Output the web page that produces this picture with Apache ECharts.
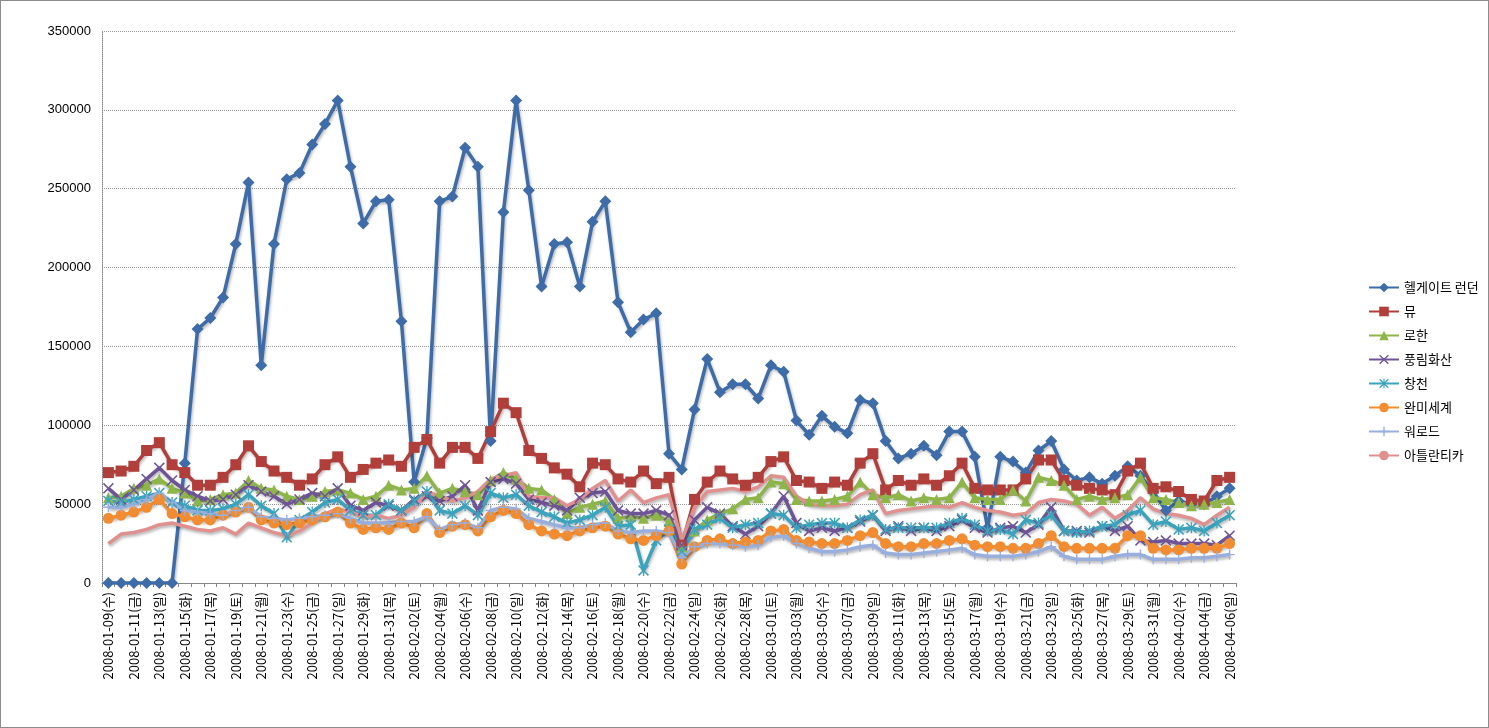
<!DOCTYPE html>
<html>
<head>
<meta charset="utf-8">
<script src="https://cdn.jsdelivr.net/npm/echarts@6/dist/echarts.min.js"></script>
<style>
    *{margin:0;padding:0;}
    body{background:#fff;}
    #main{width:1489px;height:728px;box-sizing:border-box;border:1px solid #8c8c8c;}
</style>
</head>
<body>
<div id="main"></div>
<script type="text/javascript">
// 날짜 (x축)
var dates = [
    '2008-01-09(수)','2008-01-10(목)','2008-01-11(금)','2008-01-12(토)','2008-01-13(일)','2008-01-14(월)','2008-01-15(화)',
    '2008-01-16(수)','2008-01-17(목)','2008-01-18(금)','2008-01-19(토)','2008-01-20(일)','2008-01-21(월)','2008-01-22(화)',
    '2008-01-23(수)','2008-01-24(목)','2008-01-25(금)','2008-01-26(토)','2008-01-27(일)','2008-01-28(월)','2008-01-29(화)',
    '2008-01-30(수)','2008-01-31(목)','2008-02-01(금)','2008-02-02(토)','2008-02-03(일)','2008-02-04(월)','2008-02-05(화)',
    '2008-02-06(수)','2008-02-07(목)','2008-02-08(금)','2008-02-09(토)','2008-02-10(일)','2008-02-11(월)','2008-02-12(화)',
    '2008-02-13(수)','2008-02-14(목)','2008-02-15(금)','2008-02-16(토)','2008-02-17(일)','2008-02-18(월)','2008-02-19(화)',
    '2008-02-20(수)','2008-02-21(목)','2008-02-22(금)','2008-02-23(토)','2008-02-24(일)','2008-02-25(월)','2008-02-26(화)',
    '2008-02-27(수)','2008-02-28(목)','2008-02-29(금)','2008-03-01(토)','2008-03-02(일)','2008-03-03(월)','2008-03-04(화)',
    '2008-03-05(수)','2008-03-06(목)','2008-03-07(금)','2008-03-08(토)','2008-03-09(일)','2008-03-10(월)','2008-03-11(화)',
    '2008-03-12(수)','2008-03-13(목)','2008-03-14(금)','2008-03-15(토)','2008-03-16(일)','2008-03-17(월)','2008-03-18(화)',
    '2008-03-19(수)','2008-03-20(목)','2008-03-21(금)','2008-03-22(토)','2008-03-23(일)','2008-03-24(월)','2008-03-25(화)',
    '2008-03-26(수)','2008-03-27(목)','2008-03-28(금)','2008-03-29(토)','2008-03-30(일)','2008-03-31(월)','2008-04-01(화)',
    '2008-04-02(수)','2008-04-03(목)','2008-04-04(금)','2008-04-05(토)','2008-04-06(일)'
];

var yTicks = [0, 50000, 100000, 150000, 200000, 250000, 300000, 350000];

var hellgate = [0,0,0,0,0,0,76000,161000,168000,181000,215000,254000,138000,215000,256000,260000,278000,291000,306000,264000,
    228000,242000,243000,166000,64000,92000,242000,245000,276000,264000,90000,235000,306000,249000,188000,215000,216000,188000,
    229000,242000,178000,159000,167000,171000,82000,72000,110000,142000,121000,126000,126000,117000,138000,134000,103000,94000,
    106000,99000,95000,116000,114000,90000,79000,82000,87000,81000,96000,96000,80000,35000,80000,77000,70000,84000,90000,72000,
    65000,67000,63000,68000,74000,68000,58000,46000,52000,50000,50000,55000,60000];

var you = [70000,71000,74000,84000,89000,75000,70000,62000,62000,67000,75000,87000,77000,71000,67000,62000,66000,75000,80000,67000,
    72000,76000,78000,74000,86000,91000,76000,86000,86000,79000,96000,114000,108000,84000,79000,73000,69000,61000,76000,75000,
    66000,64000,71000,63000,67000,24000,53000,64000,71000,66000,62000,67000,77000,80000,65000,64000,60000,64000,62000,76000,
    82000,59000,65000,62000,66000,62000,68000,76000,60000,59000,59000,59000,66000,78000,78000,65000,62000,60000,59000,56000,
    71000,76000,60000,61000,58000,53000,52000,65000,67000];

var rohan = [54000,55000,60000,62000,66000,60000,57000,52000,53000,56000,57000,65000,60000,59000,55000,53000,55000,58000,59000,57000,
    53000,55000,62000,59000,60000,68000,57000,60000,58000,56000,65000,70000,66000,60000,59000,53000,44000,48000,50000,52000,
    41000,42000,41000,43000,39000,23000,33000,40000,44000,47000,53000,54000,64000,63000,53000,52000,52000,53000,55000,64000,
    56000,54000,56000,52000,54000,53000,54000,64000,54000,53000,53000,59000,52000,67000,65000,62000,53000,55000,53000,54000,
    56000,67000,54000,53000,51000,49000,50000,51000,53000];

var pungrim = [60000,53000,59000,66000,73000,65000,59000,55000,52000,53000,56000,62000,58000,55000,50000,53000,57000,55000,60000,49000,
    46000,51000,49000,46000,53000,55000,52000,55000,62000,46000,64000,66000,63000,53000,51000,49000,46000,54000,57000,58000,
    46000,44000,44000,46000,43000,24000,40000,48000,44000,36000,31000,36000,44000,55000,38000,33000,35000,33000,35000,39000,
    43000,33000,36000,33000,35000,33000,36000,40000,35000,32000,35000,36000,32000,37000,48000,33000,33000,32000,36000,33000,
    36000,27000,26000,27000,25000,25000,25000,24000,30000];

var changchun = [52000,51000,53000,55000,57000,51000,49000,46000,46000,47000,50000,56000,49000,44000,29000,40000,45000,51000,53000,46000,
    43000,43000,50000,46000,52000,58000,46000,44000,49000,43000,57000,54000,56000,49000,45000,42000,38000,40000,43000,48000,
    36000,37000,8000,27000,34000,20000,34000,37000,41000,35000,37000,38000,44000,43000,35000,37000,38000,38000,35000,40000,
    43000,34000,35000,35000,35000,35000,38000,41000,37000,33000,34000,31000,40000,38000,43000,33000,32000,33000,36000,37000,
    43000,46000,37000,39000,34000,35000,33000,38000,43000];

var wanmi = [41000,43000,45000,48000,53000,44000,42000,40000,40000,43000,45000,48000,40000,38000,37000,38000,40000,42000,45000,38000,
    34000,35000,34000,38000,35000,44000,32000,36000,37000,33000,42000,46000,44000,37000,33000,31000,30000,33000,35000,36000,
    31000,28000,27000,30000,33000,12000,23000,27000,28000,25000,26000,27000,33000,34000,27000,26000,25000,25000,27000,30000,
    32000,25000,23000,23000,25000,25000,27000,28000,24000,23000,23000,22000,22000,25000,30000,23000,22000,22000,22000,22000,
    30000,30000,22000,21000,21000,22000,22000,22000,25000];

var warlord = [48000,48000,50000,53000,57000,51000,46000,45000,44000,43000,46000,48000,42000,41000,40000,41000,42000,43000,44000,41000,
    38000,38000,38000,39000,39000,42000,34000,37000,38000,35000,46000,48000,47000,41000,39000,37000,35000,35000,37000,38000,
    33000,32000,33000,33000,32000,16000,23000,25000,25000,24000,23000,24000,29000,30000,25000,22000,20000,20000,21000,23000,
    24000,19000,18000,18000,19000,20000,21000,22000,18000,17000,17000,17000,18000,20000,23000,17000,15000,15000,15000,17000,
    18000,18000,15000,15000,15000,16000,16000,17000,18000];

var atlantica = [25000,31000,32000,34000,37000,38000,36000,34000,33000,35000,31000,38000,35000,32000,30000,33000,38000,44000,47000,45000,
    42000,43000,41000,43000,48000,58000,55000,52000,54000,58000,66000,68000,70000,55000,54000,54000,49000,53000,60000,65000,
    52000,59000,51000,54000,56000,27000,48000,58000,59000,60000,58000,61000,68000,67000,55000,50000,49000,49000,50000,56000,
    59000,44000,46000,47000,48000,49000,48000,51000,48000,46000,45000,43000,44000,51000,53000,52000,50000,43000,48000,41000,
    46000,54000,47000,44000,43000,41000,37000,43000,48000];

var names = ['헬게이트 런던','뮤','로한','풍림화산','창천','완미세계','워로드','아틀란티카'];
var colors = ['#3D6CA8','#B03E3A','#8DB54A','#6E5496','#3BA3BC','#F28C30','#98AEDD','#E0908E'];

var crossPath = 'path://M0,1L1,0L5,4L9,0L10,1L6,5L10,9L9,10L5,6L1,10L0,9L4,5Z';
var starPath = 'path://M0,1L1,0L5,4L9,0L10,1L6,5L10,9L9,10L5,6L1,10L0,9L4,5Z M4.4,0L5.6,0L5.6,10L4.4,10Z';
var plusPath = 'path://M4.3,0L5.7,0L5.7,4.3L10,4.3L10,5.7L5.7,5.7L5.7,10L4.3,10L4.3,5.7L0,5.7L0,4.3L4.3,4.3Z';

var seriesData = [hellgate, you, rohan, pungrim, changchun, wanmi, warlord, atlantica];
var symbols = ['diamond','rect','triangle',crossPath,starPath,'circle',plusPath,'none'];
var sizes = [12, 11, 11, 11, 11, 11, 10, 0];

var series = [];
for (var i = 0; i < names.length; i++) {
    series.push({
        name: names[i],
        type: 'line',
        data: seriesData[i],
        symbol: symbols[i],
        symbolSize: sizes[i],
        showSymbol: symbols[i] !== 'none',
        showAllSymbol: true,
        lineStyle: {
            width: 3.5,
            color: colors[i],
            shadowColor: 'rgba(0,0,0,0.3)',
            shadowBlur: 3,
            shadowOffsetX: 1,
            shadowOffsetY: 2
        },
        itemStyle: {
            color: colors[i]
        },
        emphasis: {disabled: true}
    });
}

var myChart = echarts.init(document.getElementById('main'));
var option = {
    animation: false,
    textStyle: {fontFamily: '"Noto Sans CJK KR", sans-serif'},
    grid: {
        left: 101,
        top: 30,
        right: 252,
        bottom: 144,
        containLabel: false
    },
    legend: {
        orient: 'vertical',
        left: 1362,
        top: 275,
        itemWidth: 30,
        itemHeight: 12,
        itemGap: 11,
        textStyle: {fontSize: 13, lineHeight: 13, color: '#000'},
        data: names
    },
    xAxis: {
        type: 'category',
        data: dates,
        boundaryGap: true,
        axisLine: {lineStyle: {color: '#868686', width: 1}},
        axisTick: {show: true, interval: 0, length: 4, lineStyle: {color: '#868686'}},
        axisLabel: {
            interval: 1,
            rotate: 90,
            fontSize: 13,
            color: '#000',
            margin: 9
        }
    },
    yAxis: {
        type: 'value',
        min: yTicks[0],
        max: yTicks[yTicks.length - 1],
        interval: 50000,
        axisLine: {show: true, lineStyle: {color: '#868686', type: [1, 1]}},
        axisTick: {show: false},
        axisLabel: {
            fontSize: 13,
            color: '#000',
            margin: 11,
            fontFamily: 'Arial, "Liberation Sans", sans-serif',
            formatter: function (v) { return String(v); }
        },
        splitLine: {lineStyle: {color: '#9a9a9a', type: [1, 1], width: 1}}
    },
    series: series
};
myChart.setOption(option);
</script>
</body>
</html>
